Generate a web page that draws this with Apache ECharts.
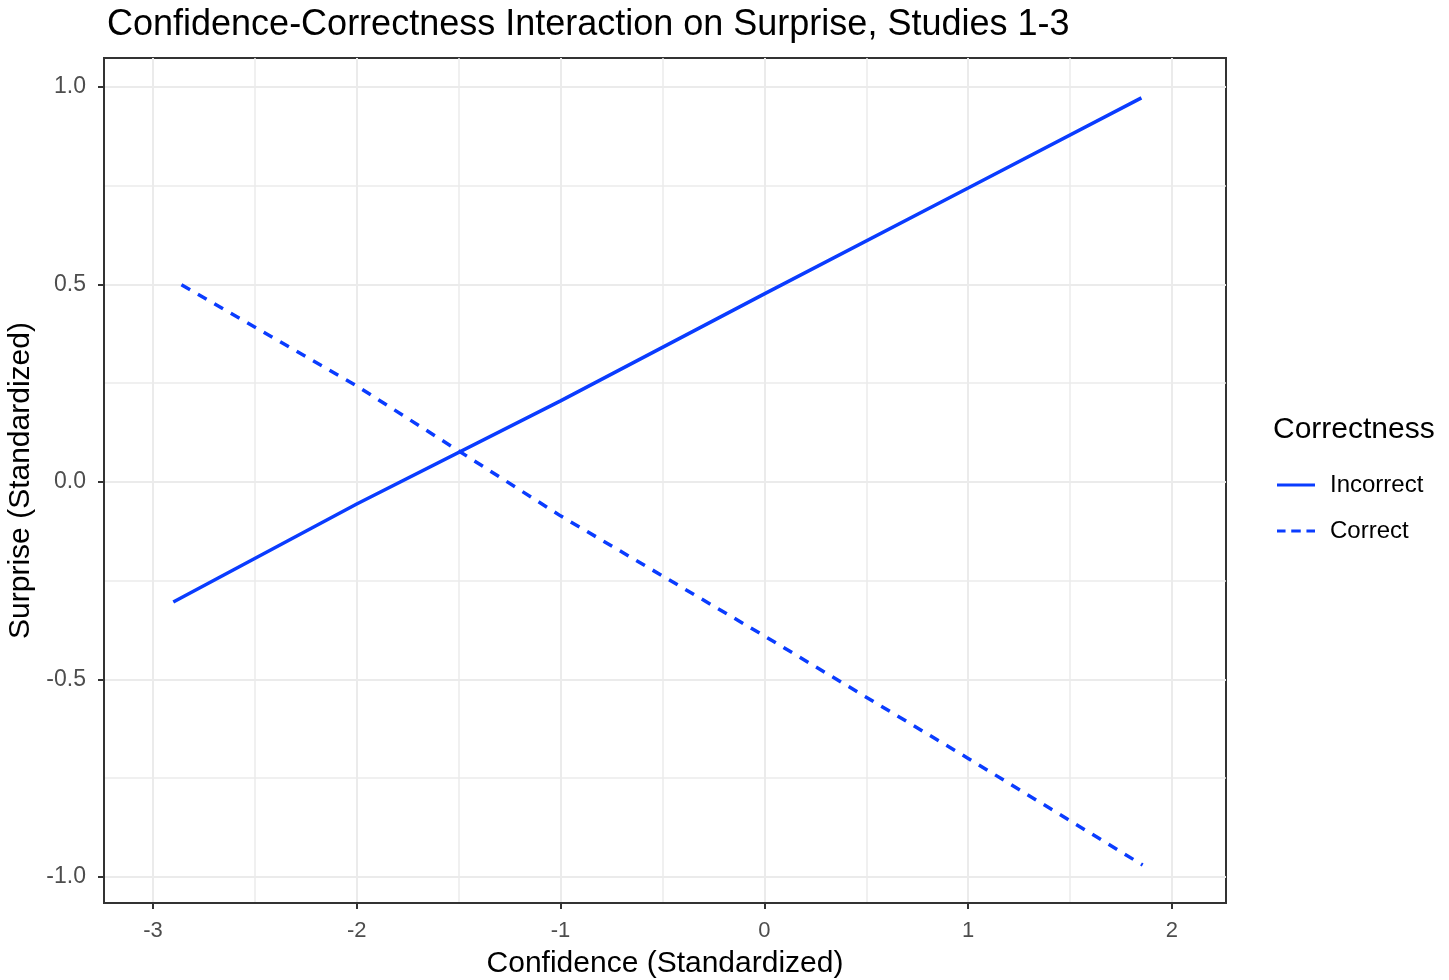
<!DOCTYPE html>
<html>
<head>
<meta charset="utf-8">
<style>html,body{margin:0;padding:0;background:#fff}#c{width:1449px;height:980px}</style>
<script src="https://cdn.jsdelivr.net/npm/echarts@6/dist/echarts.min.js"></script>
</head>
<body>
<div id="c"></div>
<script>
// Data
const incorrectX = [-2.90, -2.00, -1.00, 0.00, 1.00, 1.85];
const incorrectY = [-0.304, -0.056, 0.205, 0.476, 0.744, 0.972];
const correctX = [-2.86, -2.00, -1.00, 0.00, 1.00, 1.856];
const correctY = [0.499, 0.243, -0.086, -0.390, -0.700, -0.970];
const xTicks = [-3, -2, -1, 0, 1, 2];
const xMinor = [-2.5, -1.5, -0.5, 0.5, 1.5];
const yTicks = [-1.0, -0.5, 0.0, 0.5, 1.0];
const yMinor = [-0.75, -0.25, 0.25, 0.75];
const seriesNames = ['Incorrect', 'Correct'];

const FONT = 'Liberation Sans, Arial, sans-serif';
const BLUE = '#0a3cff';

const chart = echarts.init(document.getElementById('c'));
const zip = (xs, ys) => xs.map((x, i) => [x, ys[i]]);

const gridLines = []
  .concat(xMinor.map(v => ({xAxis: v, lineStyle: {width: 1.5}})))
  .concat(yMinor.map(v => ({yAxis: v, lineStyle: {width: 1.5}})))
  .concat(xTicks.map(v => ({xAxis: v, lineStyle: {width: 2}})))
  .concat(yTicks.map(v => ({yAxis: v, lineStyle: {width: 2}})));

const solidIcon = 'path://M0,0h40v3h-40z';
const dashIcon = 'path://M0,0h9v3h-9z M15,0h10v3h-10z M31,0h9v3h-9z';

chart.setOption({
  animation: false,
  backgroundColor: '#fff',
  title: [
    {text: 'Confidence-Correctness Interaction on Surprise, Studies 1-3', left: 102, top: 2,
     textStyle: {fontFamily: FONT, fontSize: 36, fontWeight: 'normal', color: '#000'}},
    {text: 'Correctness', left: 1268, top: 410,
     textStyle: {fontFamily: FONT, fontSize: 30, fontWeight: 'normal', color: '#000'}}
  ],
  legend: {
    orient: 'vertical', left: 1272, top: 468, itemGap: 22,
    itemWidth: 38, itemHeight: 3,
    data: [{name: seriesNames[0], icon: solidIcon}, {name: seriesNames[1], icon: dashIcon}],
    itemStyle: {color: BLUE, borderWidth: 0},
    lineStyle: {width: 0},
    textStyle: {fontFamily: FONT, fontSize: 24, color: '#000', padding: [0, 0, 0, 10]}
  },
  grid: {left: 104, right: 223, top: 58, bottom: 77, show: true, borderColor: '#333', borderWidth: 2,
    backgroundColor: 'transparent', outerBoundsMode: 'none', containLabel: false},
  xAxis: {
    type: 'value', min: -3.24, max: 2.265,
    name: 'Confidence (Standardized)', nameLocation: 'middle', nameGap: 46,
    nameTextStyle: {fontFamily: FONT, fontSize: 30, color: '#000'},
    axisLine: {show: true, onZero: false, lineStyle: {color: '#333', width: 2}},
    axisTick: {show: true, length: 6, customValues: xTicks, lineStyle: {color: '#333', width: 2}},
    axisLabel: {customValues: xTicks, margin: 17, fontFamily: FONT, fontSize: 22, color: '#4d4d4d',
      formatter: v => String(v)},
    splitLine: {show: false}
  },
  yAxis: {
    type: 'value', min: -1.066, max: 1.073,
    name: 'Surprise (Standardized)', nameLocation: 'middle', nameGap: 62, nameRotate: 90,
    nameTextStyle: {fontFamily: FONT, fontSize: 30, color: '#000'},
    axisLine: {show: true, onZero: false, lineStyle: {color: '#333', width: 2}},
    axisTick: {show: true, length: 6, customValues: yTicks, lineStyle: {color: '#333', width: 2}},
    axisLabel: {customValues: yTicks, margin: 18, fontFamily: FONT, fontSize: 23, color: '#4d4d4d',
      formatter: v => v.toFixed(1)},
    splitLine: {show: false}
  },
  series: [
    {
      name: 'gridlines', type: 'line', data: [], silent: true, z: 0, zlevel: 0,
      markLine: {silent: true, symbol: 'none', label: {show: false}, animation: false, z: 0,
        lineStyle: {color: '#ebebeb', type: 'solid'}, data: gridLines}
    },
    {
      name: seriesNames[0], type: 'line', data: zip(incorrectX, incorrectY), z: 10,
      showSymbol: false, symbol: 'none', color: BLUE,
      lineStyle: {color: BLUE, width: 3.5, type: 'solid'}
    },
    {
      name: seriesNames[1], type: 'line', data: zip(correctX, correctY), z: 10,
      showSymbol: false, symbol: 'none', color: BLUE,
      lineStyle: {color: BLUE, width: 3.5, type: [10, 9]}
    }
  ]
});
</script>
</body>
</html>
